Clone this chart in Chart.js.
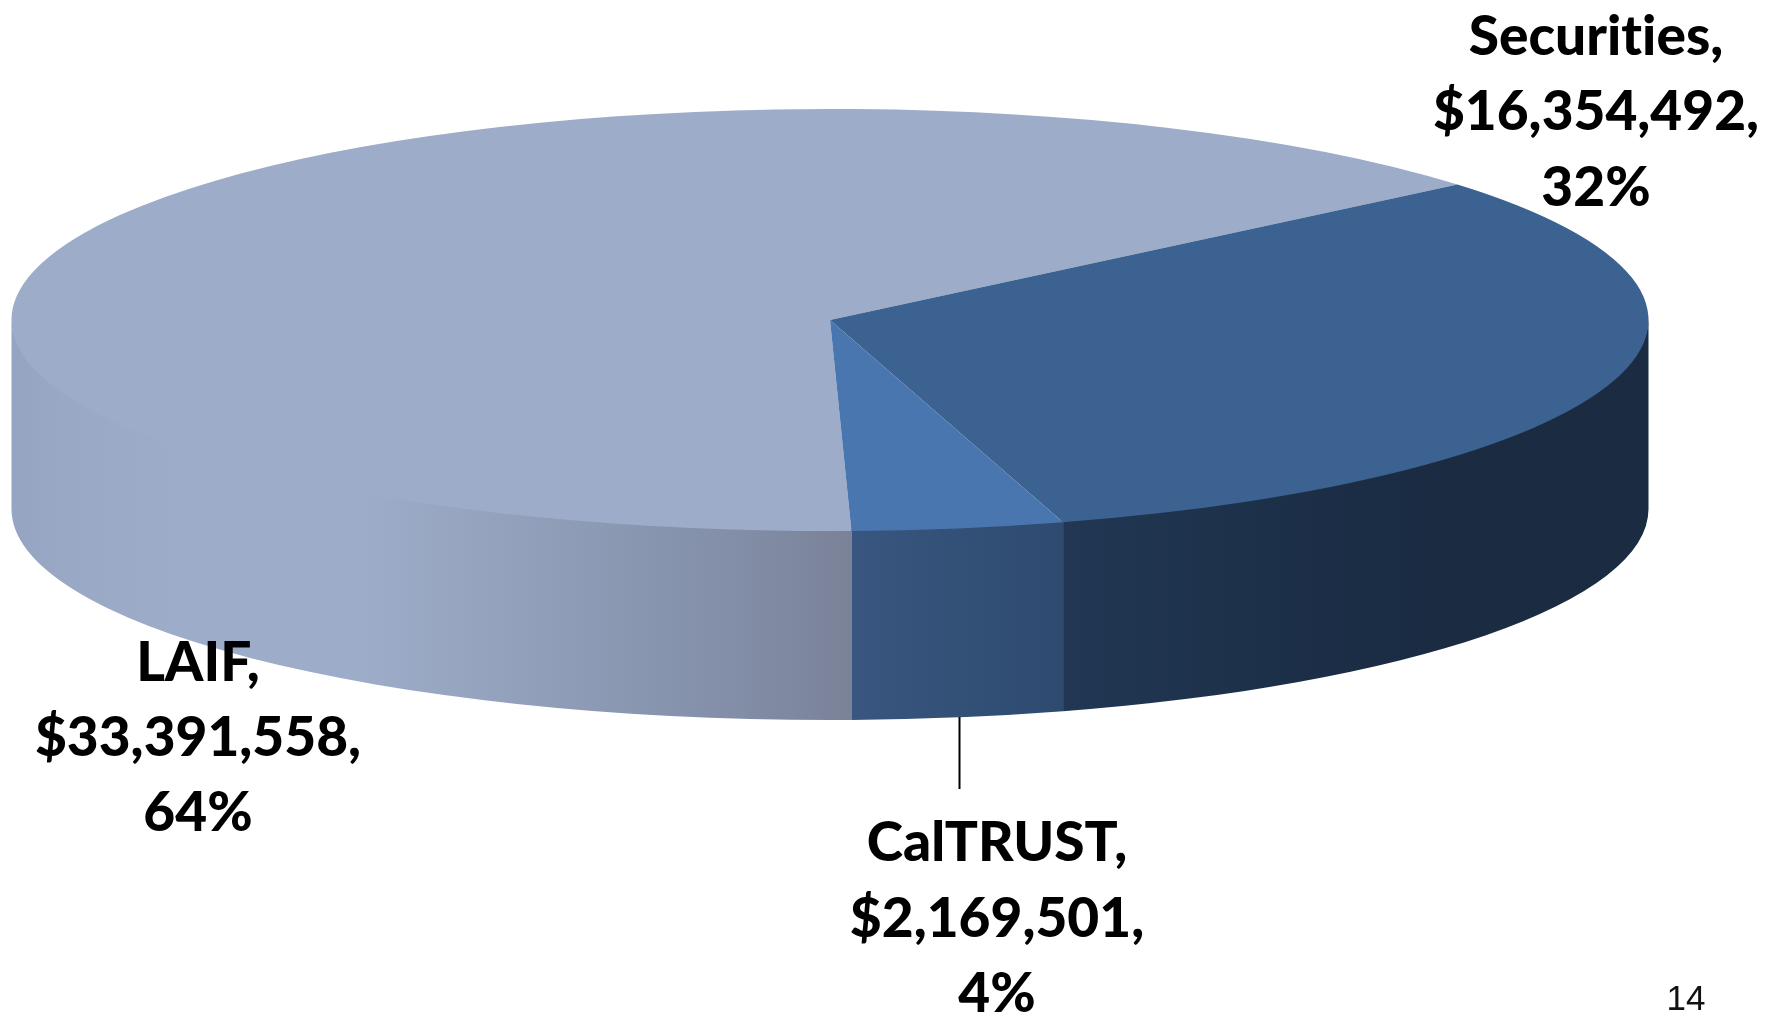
<!DOCTYPE html>
<html>
<head>
<meta charset="utf-8">
<style>html,body{margin:0;padding:0;background:#fff}canvas{display:block}</style>
<script src="https://cdn.jsdelivr.net/npm/chart.js@4/dist/chart.umd.min.js"></script>
</head>
<body>
<canvas id="c" width="1785" height="1016"></canvas>
<script>
const categories = ["LAIF", "Securities", "CalTRUST"];
const values = [33391558, 16354492, 2169501];
const percents = ["64%", "32%", "4%"];
const pageNumber = "14";

const topColors = ["#9dacc8", "#3b6290", "#4a76b0"];
const wallStops = [
  [[0, "#95a5c1"], [0.06, "#99a8c4"], [0.2, "#9dacc8"], [0.42, "#9dacc8"], [0.62, "#919fba"], [0.85, "#838fa8"], [1, "#7a8298"]],
  [[0, "#213753"], [0.5, "#1b2d45"], [0.65, "#1a2b42"], [1, "#1a2b42"]],
  [[0, "#38567f"], [1, "#2e4a6f"]]
];
const geom = {cx: 830, cy: 320, rx: 818.5, ry: 211, depth: 189, rotation: 178.5, overlap: 2};
const labelPos = [
  {x: 198, y: [663, 738, 813]},
  {x: 1596, y: [37, 112, 188]},
  {x: 997, y: [843, 919, 994]}
];
const fmt = v => "$" + v.toLocaleString("en-US") + ",";

const pie3d = {
  id: "pie3d",
  beforeDatasetsDraw(chart) {
    const ctx = chart.ctx, arcs = chart.getDatasetMeta(0).data, g = geom;
    const TAU = Math.PI * 2;
    arcs.forEach((arc, i) => {
      let s = ((arc.startAngle % TAU) + TAU) % TAU;
      let e = s + (arc.endAngle - arc.startAngle);
      [[s, e], [s - TAU, e - TAU]].forEach(([a, b]) => {
        const a0 = Math.max(a, 0), a1 = Math.min(b, Math.PI);
        if (a1 <= a0) return;
        const x0 = g.cx + g.rx * Math.cos(a0), x1 = g.cx + g.rx * Math.cos(a1);
        const gr = ctx.createLinearGradient(Math.min(x0, x1), 0, Math.max(x0, x1), 0);
        wallStops[i].forEach(st => gr.addColorStop(st[0], st[1]));
        ctx.beginPath();
        ctx.ellipse(g.cx, g.cy - g.overlap, g.rx, g.ry, 0, a0, a1, false);
        ctx.ellipse(g.cx, g.cy + g.depth, g.rx, g.ry, 0, a1, a0, true);
        ctx.closePath();
        ctx.fillStyle = gr;
        ctx.fill();
      });
    });
    const first = arcs[0], R = first.outerRadius;
    ctx.save();
    ctx.translate(g.cx, g.cy);
    ctx.scale(g.rx / R, g.ry / R);
    ctx.translate(-first.x, -first.y);
  },
  afterDatasetsDraw(chart) {
    const ctx = chart.ctx;
    ctx.restore();
    ctx.strokeStyle = "#000";
    ctx.lineWidth = 2;
    ctx.beginPath();
    ctx.moveTo(959.5, 717);
    ctx.lineTo(959.5, 789);
    ctx.stroke();
    ctx.fillStyle = "#000";
    ctx.textAlign = "center";
    ctx.textBaseline = "middle";
    ctx.font = "900 55px Lato";
    ctx.letterSpacing = "0.01px";
    categories.forEach((c, i) => {
      const lines = [c + ",", fmt(values[i]), percents[i]];
      lines.forEach((t, k) => ctx.fillText(t, labelPos[i].x, labelPos[i].y[k]));
    });
    ctx.letterSpacing = "0px";
    ctx.font = "35px 'Liberation Sans'";
    ctx.fillStyle = "#111";
    ctx.fillText(pageNumber, 1686, 1000);
  }
};

new Chart(document.getElementById("c"), {
  type: "pie",
  data: {
    labels: categories,
    datasets: [{data: values, backgroundColor: topColors, borderWidth: 0, clip: false}]
  },
  options: {
    responsive: false,
    animation: false,
    rotation: geom.rotation,
    layout: {padding: 0},
    plugins: {legend: {display: false}, tooltip: {enabled: false}}
  },
  plugins: [pie3d]
});
</script>
</body>
</html>
